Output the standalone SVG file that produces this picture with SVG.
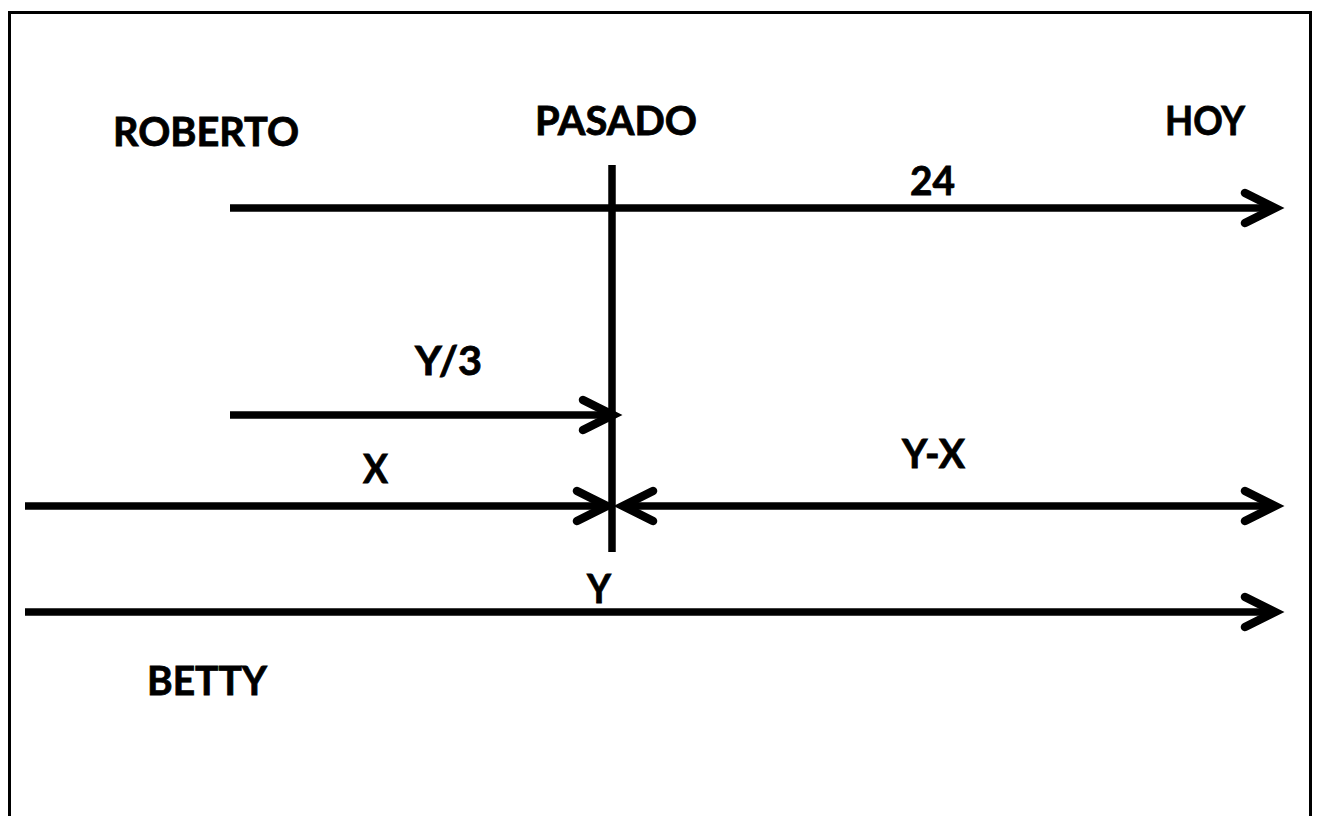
<svg xmlns="http://www.w3.org/2000/svg" width="1317" height="816" viewBox="0 0 1317 816">
<style>
.t{font-family:"Lato","Open Sans","Liberation Sans",sans-serif;font-weight:bold;font-size:40px;fill:#000;stroke:#000;stroke-width:0.8}
.ln{stroke:#000;stroke-width:7.5;fill:none}
</style>
<defs>
<marker id="arr" markerUnits="userSpaceOnUse" viewBox="-45 -25 55 50" markerWidth="55" markerHeight="50" refX="0" refY="0" orient="auto-start-reverse" overflow="visible">
<path d="M-30,-15 L0,0 L-30,15" fill="none" stroke="#000" stroke-width="8.5" stroke-linecap="round" stroke-linejoin="miter"/>
</marker>
</defs>
<rect width="1317" height="816" fill="#fff"/>
<rect x="9.5" y="12.5" width="1301" height="830" fill="none" stroke="#000" stroke-width="3"/>
<g id="connectors">
<line class="ln" x1="612" y1="165" x2="612" y2="552"/>
<line class="ln" x1="230" y1="208" x2="1275" y2="208" marker-end="url(#arr)"/>
<line class="ln" x1="230" y1="415" x2="613" y2="415" marker-end="url(#arr)"/>
<line class="ln" x1="25" y1="506" x2="607" y2="506" marker-end="url(#arr)"/>
<line class="ln" x1="623" y1="506" x2="1275" y2="506" marker-start="url(#arr)" marker-end="url(#arr)"/>
<line class="ln" x1="25" y1="612" x2="1275" y2="612" marker-end="url(#arr)"/>
</g>
<g id="roberto"><text class="t" x="113" y="146" textLength="186" lengthAdjust="spacingAndGlyphs">ROBERTO</text></g>
<g id="pasado"><text class="t" x="535" y="135" textLength="162" lengthAdjust="spacingAndGlyphs">PASADO</text></g>
<g id="hoy"><text class="t" x="1165" y="135" textLength="80" lengthAdjust="spacingAndGlyphs">HOY</text></g>
<g id="label-24"><text class="t" x="910" y="195" textLength="45" lengthAdjust="spacingAndGlyphs">24</text></g>
<g id="label-y3"><text class="t" x="415" y="375" textLength="67" lengthAdjust="spacingAndGlyphs">Y/3</text></g>
<g id="label-x"><text class="t" x="363" y="483" textLength="25" lengthAdjust="spacingAndGlyphs">X</text></g>
<g id="label-yx"><text class="t" x="902" y="468" textLength="63" lengthAdjust="spacingAndGlyphs">Y-X</text></g>
<g id="label-y"><text class="t" x="587" y="603" textLength="24" lengthAdjust="spacingAndGlyphs">Y</text></g>
<g id="betty"><text class="t" x="147" y="695" textLength="120" lengthAdjust="spacingAndGlyphs">BETTY</text></g>
</svg>
